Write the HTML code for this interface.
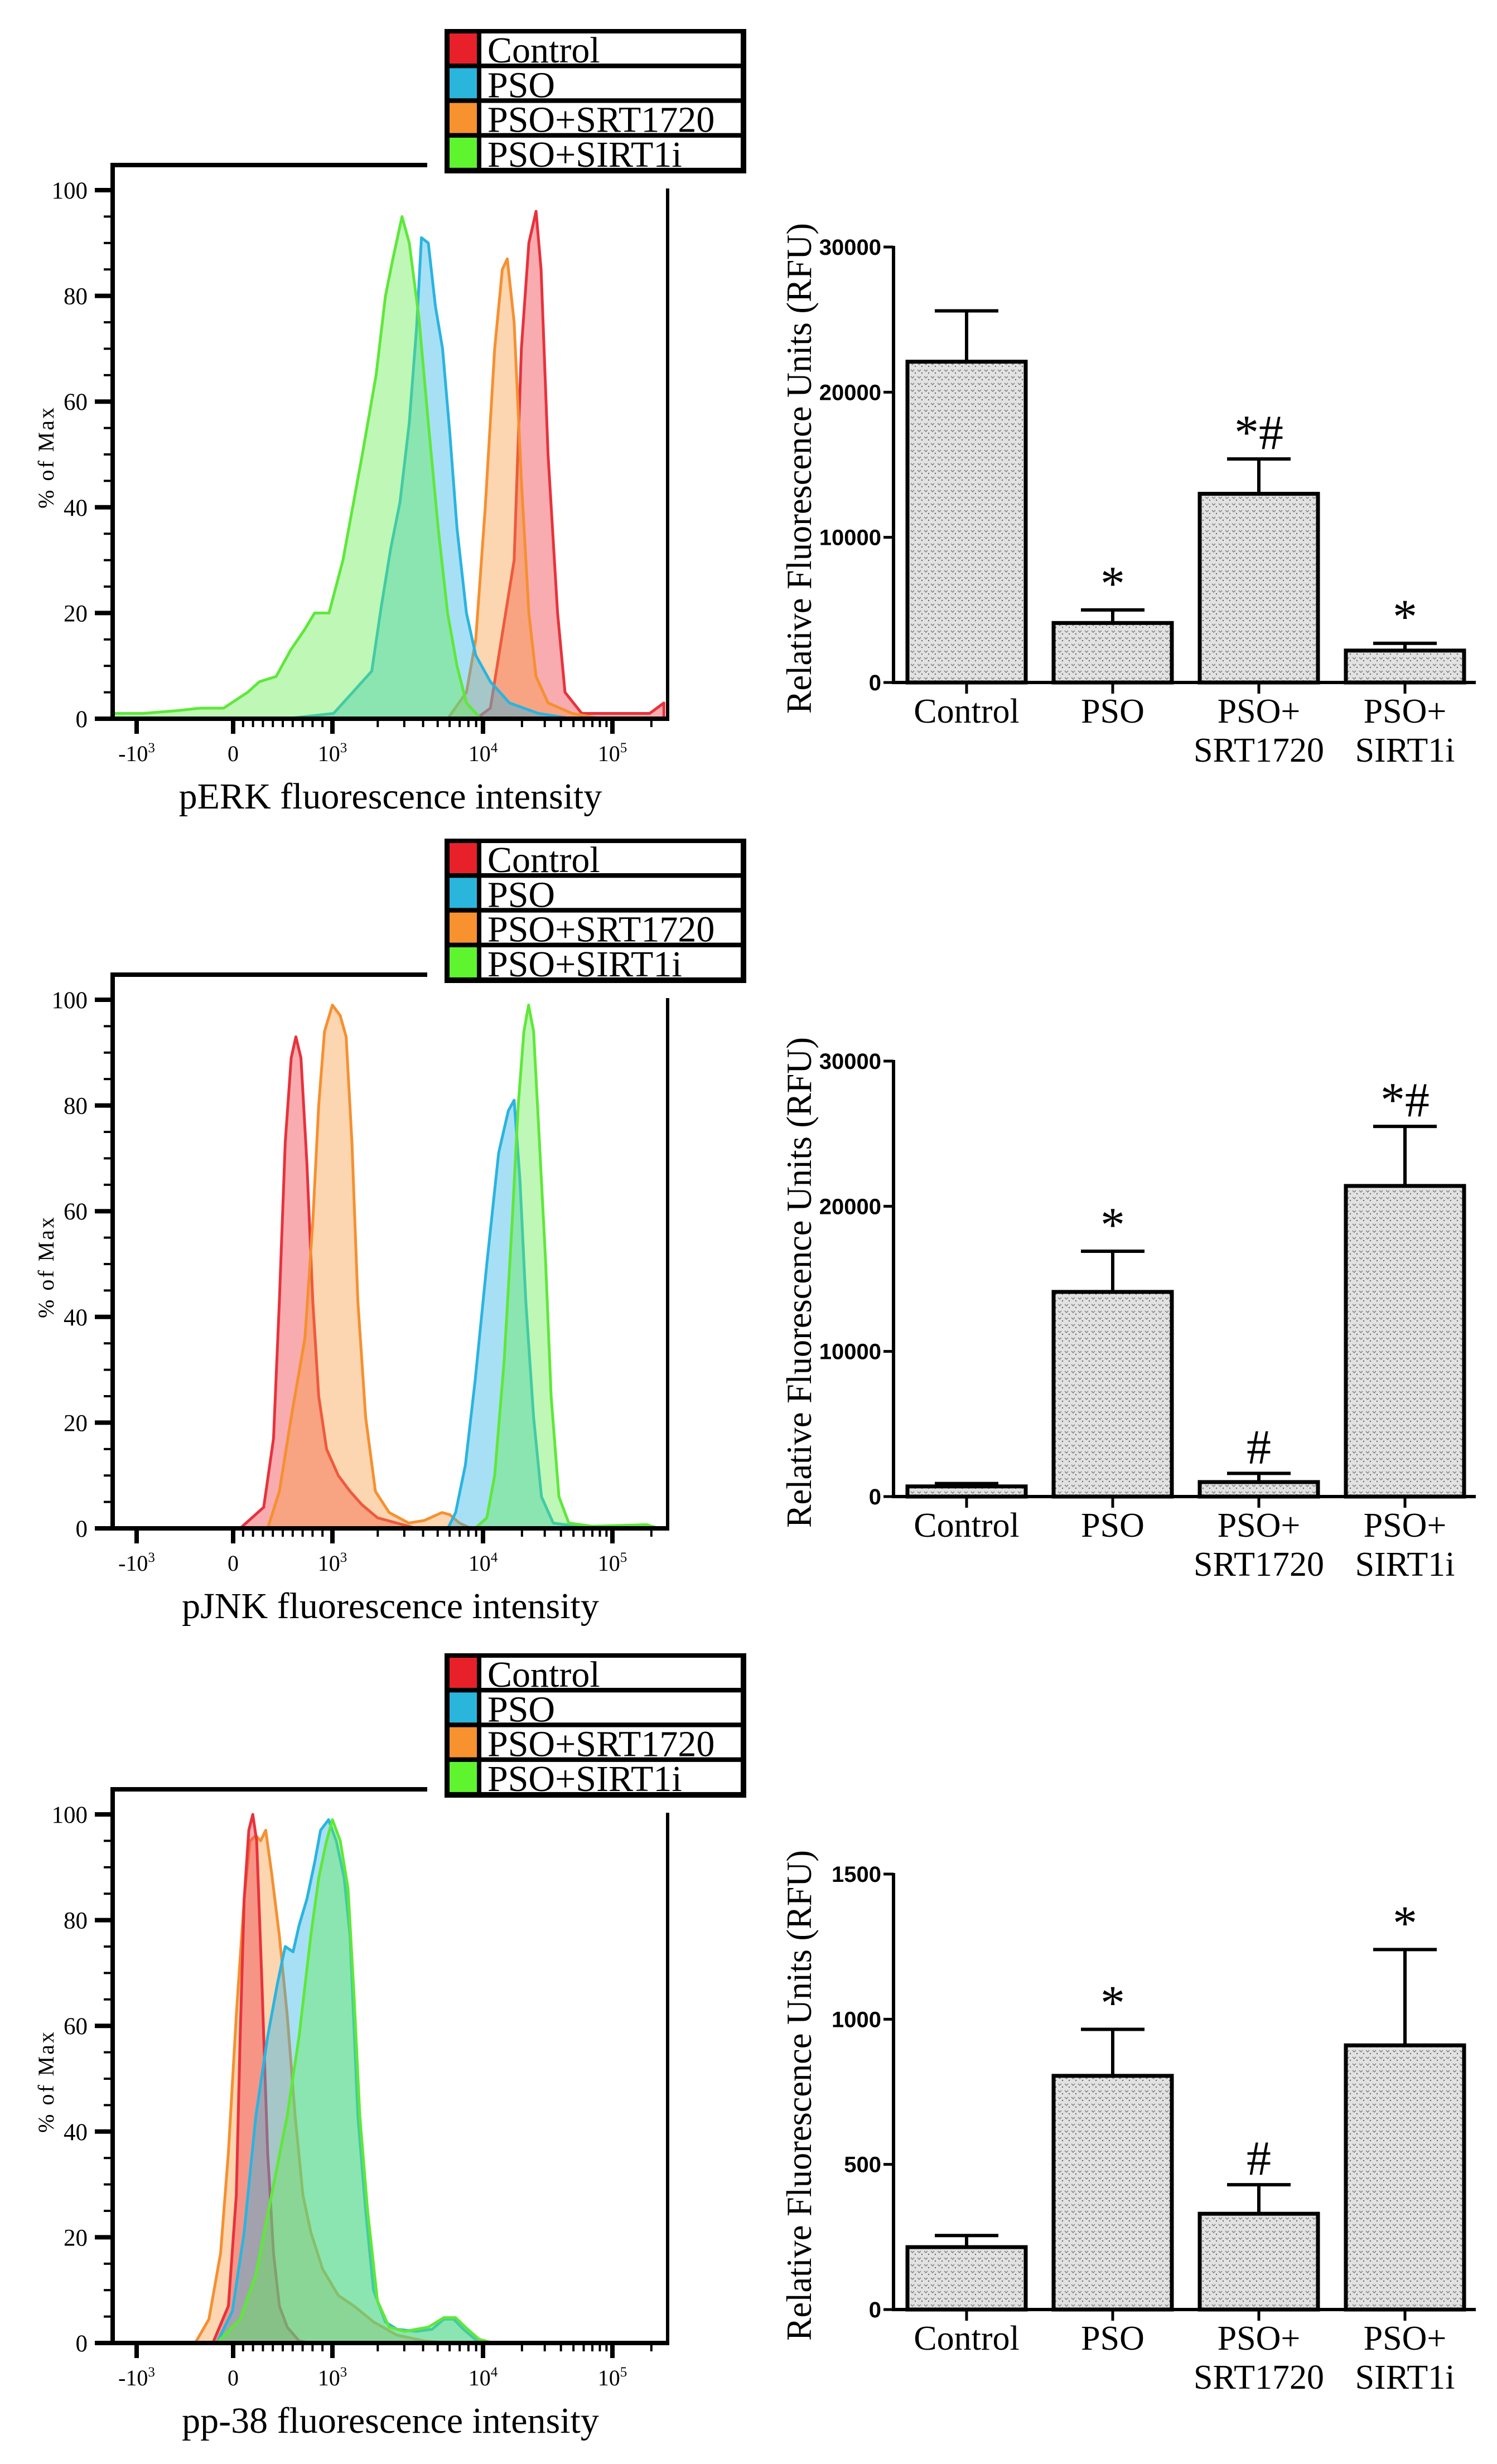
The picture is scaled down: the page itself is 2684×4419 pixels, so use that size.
<!DOCTYPE html>
<html><head><meta charset="utf-8"><style>
html,body{margin:0;padding:0;background:#fff;}
svg{display:block;}
</style></head><body>
<svg id="fig" xmlns="http://www.w3.org/2000/svg" width="2684" height="4419" viewBox="0 0 2684 4419">
<defs>
<pattern id="dots" width="12" height="12" patternUnits="userSpaceOnUse">
<rect width="12" height="12" fill="#e2e2e2"/>
<path d="M1 3 L4 6 L7 3" stroke="#8a8a8a" stroke-width="1.6" fill="none"/>
<circle cx="9" cy="9" r="1.2" fill="#666"/>
</pattern>
<clipPath id="plotclip"><rect x="204" y="250" width="990" height="1040"/></clipPath>
</defs>
<g id="root"></g>
</svg>
<script>
// ---------- Histogram data (intensity values, % of max) ----------
const seriesNames = ["Control","PSO","PSO+SRT1720","PSO+SIRT1i"];
const histX_tickVals = [-1000,0,1000,10000,100000];
const histYTicks = [0,20,40,60,80,100];
const histAxisTitles = ["pERK fluorescence intensity","pJNK fluorescence intensity","pp-38 fluorescence intensity"];

// Panel 1 (pERK)
const p1RedX = [9000,11400,17400,19800,22600,25700,28100,31800,37700,43000,58000,194000,250000];
const p1RedY = [0,2,30,70,90,96,85,50,20,5,1,1,3];
const p1OrangeX = [5820,7760,8950,10400,12300,14100,15400,17400,19800,22600,25700,31800,49000,83000];
const p1OrangeY = [0,5,15,40,70,85,87,75,45,20,8,3,1,0];
const p1BlueX = [534,1017,1268,1824,2106,2432,2810,3240,3620,3900,4330,4830,5390,6020,6720,7760,8950,11400,16000,26800,49000];
const p1BlueY = [0,1,4,9,21,32,41,56,74,91,90,78,70,54,36,20,12,7,3,1,0];
const p1GreenX = [-1272,-936,-600,-341,-98,146,264,433,579,725,820,966,1175,1580,1950,2250,2520,2900,3240,3750,4330,5040,5820,6720,7760,9670];
const p1GreenY = [1,1,1.5,2,2,5,7,8,13,17,20,20,30,50,65,80,87,95,90,76,56,36,20,10,3,0];

// Panel 2 (pJNK)
const p2RedX = [71,308,407,466,525,585,632,683,743,802,862,941,1094,1309,1566,1990,2680,3620];
const p2RedY = [0,4,17,43,73,89,93,89,69,43,25,15,10,7,4.5,2,1,0];
const p2OrangeX = [348,466,585,723,802,862,920,1000,1127,1233,1348,1475,1662,1930,2380,3210,4080,5340,6010,6980,8360];
const p2OrangeY = [0,7,21,36,58,80,94,99,97,93,73,43,21,7,3,1,1.5,3,2.6,1,0];
const p2BlueX = [5840,6580,7640,8870,10700,13200,15700,17400,19300,21400,24600,28300,34900,52800,211000];
const p2BlueY = [0,3,12,28,50,71,79,81,66,43,21,6,1,0.4,0.3];
const p2GreenX = [8870,10700,12300,14600,16800,18700,20700,22500,24600,27300,30400,33600,38600,46000,69700,184000,226000];
const p2GreenY = [0,2,10,32,58,80,94,99,94,73,51,25,6,1,0.4,0.7,0];

// Panel 3 (pp-38)
const p3RedX = [-211,-49,32,71,111,158,198,237,288,348,407,466,545,664,782];
const p3RedY = [0,7,28,58,84,97,100,95,69,36,17,7,3,0.4,0];
const p3OrangeX = [-393,-251,-130,-49,32,111,170,229,277,328,387,466,545,624,703,782,901,1094,1390,1873,2680,4070,5840];
const p3OrangeY = [0,4.5,17,36,62,84,95,96,95,97,89,77,62,43,28,21,14,9,7,4,1.5,0.4,0];
const p3BlueX = [-170,-8,111,229,348,446,525,604,664,743,822,881,961,1061,1196,1309,1475,1662,1873,2244,2680,3610,4590,5500,6380,7410,8870,11500];
const p3BlueY = [0,6,21,43,58,68,75,74,79,84,91,97,99,95,88,77,43,25,10,4,2.6,2.2,2.6,4.5,4.5,2.6,0.7,0];
const p3GreenX = [-170,71,229,387,545,664,782,862,941,1000,1127,1270,1390,1520,1713,1990,2380,3020,4330,5500,6580,7640,9430,12000];
const p3GreenY = [0,4.5,13,28,43,58,77,88,95,99,95,86,66,43,25,8,3,2.2,3,4.8,4.8,3,0.7,0];

// ---------- Bar chart data ----------
const barCategories = [["Control"],["PSO"],["PSO+","SRT1720"],["PSO+","SIRT1i"]];
const bar1Values = [22100,4100,13000,2200];
const bar1Errors = [3500,900,2400,500];
const bar1Marks = ["","*","*#","*"];
const bar1Ticks = [0,10000,20000,30000];
const bar2Values = [700,14100,1000,21400];
const bar2Errors = [200,2800,600,4100];
const bar2Marks = ["","*","#","*#"];
const bar2Ticks = [0,10000,20000,30000];
const bar3Values = [215,805,330,910];
const bar3Errors = [40,160,100,330];
const bar3Marks = ["","*","#","*"];
const bar3Ticks = [0,500,1000,1500];

const NS = "http://www.w3.org/2000/svg";
const root = document.getElementById('root');
function mk(tag, attrs, parent){
  const e = document.createElementNS(NS, tag);
  for (const k in attrs) e.setAttribute(k, attrs[k]);
  (parent||root).appendChild(e);
  return e;
}
const SERIF = '"Liberation Serif", "Times New Roman", serif';
const SANS = '"Liberation Sans", Arial, sans-serif';

function hx(v){
  if (v <= 0) return 418 + v*0.173;
  if (v <= 1000) return 418 + v*0.178;
  if (v <= 10000) return 596 + (Math.log10(v)-3)*270;
  return 866 + (Math.log10(v)-4)*232;
}
const colors = {
  stroke:["#e8323c","#2ab4e0","#f59030","#5fe83a"],
  fill:["rgba(240,70,80,0.45)","rgba(45,180,230,0.42)","rgba(247,150,60,0.40)","rgba(100,235,80,0.42)"],
  legend:["#e8202a","#29b5dc","#f7922e","#5ef52e"]
};
const panels = [
  {off:0, xs:[p1RedX,p1BlueX,p1OrangeX,p1GreenX], ys:[p1RedY,p1BlueY,p1OrangeY,p1GreenY], order:[0,2,1,3]},
  {off:1452, xs:[p2RedX,p2BlueX,p2OrangeX,p2GreenX], ys:[p2RedY,p2BlueY,p2OrangeY,p2GreenY], order:[0,2,1,3]},
  {off:2913, xs:[p3RedX,p3BlueX,p3OrangeX,p3GreenX], ys:[p3RedY,p3BlueY,p3OrangeY,p3GreenY], order:[2,0,1,3]}
];

panels.forEach((p, pi) => {
  const off = p.off;
  const g = mk('g', {transform:`translate(0,${off})`});
  
  
  const base = 1289;
  const hy = pct => base - pct*9.48;
  const cg = mk('g', {'clip-path':'url(#plotclip)'}, g);
  p.order.forEach(si => {
    const xs = p.xs[si], ys = p.ys[si];
    let d = `M${hx(xs[0]).toFixed(1)},${base}`;
    for (let i=0;i<xs.length;i++) d += ` L${hx(xs[i]).toFixed(1)},${hy(ys[i]).toFixed(1)}`;
    d += ` L${hx(xs[xs.length-1]).toFixed(1)},${base} Z`;
    const path = mk('path', {d:d, fill:colors.fill[si], stroke:colors.stroke[si], 'stroke-width':5, 'stroke-linejoin':'round'}, cg);
    
    
  });
  mk('line', {x1:198, y1:296, x2:766, y2:296, stroke:'#000', 'stroke-width':8}, g);
  mk('line', {x1:202, y1:292, x2:202, y2:1293, stroke:'#000', 'stroke-width':8}, g);
  mk('line', {x1:198, y1:1289, x2:1200, y2:1289, stroke:'#000', 'stroke-width':8}, g);
  mk('line', {x1:1197, y1:338, x2:1197, y2:1293, stroke:'#000', 'stroke-width':6}, g);
  for (let v=0; v<=100; v+=5){
    const major = v%20===0;
    mk('line', {x1: major?170:186, y1:hy(v), x2:202, y2:hy(v), stroke:'#000', 'stroke-width': major?8:4}, g);
  }
  histYTicks.forEach(v => {
    const t = mk('text', {x:157, y:hy(v)+15, 'text-anchor':'end', 'font-family':SERIF, 'font-size':43}, g);
    t.textContent = v;
    
    
  });
  const yt = mk('text', {x:0, y:0, transform:`translate(96,820) rotate(-90)`, 'text-anchor':'middle', 'font-family':SERIF, 'font-size':40, 'letter-spacing':3}, g);
  yt.textContent = '% of Max';
  
  
  histX_tickVals.forEach(v => {
    mk('line', {x1:hx(v), y1:1289, x2:hx(v), y2:1316, stroke:'#000', 'stroke-width':8}, g);
  });
  const minor = [];
  for (let k=1;k<=9;k++) minor.push(k*100);
  for (let k=2;k<=9;k++){ minor.push(k*1000); minor.push(k*10000); }
  minor.push(200000);
  minor.forEach(v => mk('line', {x1:hx(v), y1:1289, x2:hx(v), y2:1304, stroke:'#000', 'stroke-width':4}, g));
  const xl = [["-10","3"],["0",""],["10","3"],["10","4"],["10","5"]];
  histX_tickVals.forEach((v,i) => {
    const t = mk('text', {x:hx(v), y:1365, 'text-anchor':'middle', 'font-family':SERIF, 'font-size':40}, g);
    
    
    const a = mk('tspan', {}, t); a.textContent = xl[i][0];
    if (xl[i][1]) { const b = mk('tspan', {'font-size':25, dy:-16}, t); b.textContent = xl[i][1]; }
  });
  const xt = mk('text', {x:700, y:1450, 'text-anchor':'middle', 'font-family':SERIF, 'font-size':66}, g);
  xt.textContent = histAxisTitles[pi];
  
  
  const lg = mk('g', {}, g);
  
  
  mk('rect', {x:797, y:52, width:541, height:259, fill:'#000'}, lg);
  seriesNames.forEach((n,i) => {
    const top = 60 + i*62.3;
    const e = mk('g', {}, lg);
    
    
    mk('rect', {x:806, y:top, width:49, height:54, fill:colors.legend[i]}, e);
    mk('rect', {x:863, y:top, width:465, height:54, fill:'#fff'}, e);
    const t = mk('text', {x:874, y:top+52, 'font-family':SERIF, 'font-size':66}, e);
    t.textContent = n;
  });
});

const bars = [
  {off:0, vals:bar1Values, errs:bar1Errors, marks:bar1Marks, ticks:bar1Ticks},
  {off:1460, vals:bar2Values, errs:bar2Errors, marks:bar2Marks, ticks:bar2Ticks},
  {off:2918, vals:bar3Values, errs:bar3Errors, marks:bar3Marks, ticks:bar3Ticks}
];
bars.forEach((b, bi) => {
  const g = mk('g', {transform:`translate(0,${b.off})`});
  
  
  const y0 = 1224, yTop = 443, axX = 1602;
  const ymax = b.ticks[b.ticks.length-1];
  const by = v => y0 - v/ymax*(y0-yTop);
  const bx = i => 1624 + i*262;
  const bw = 218;
  mk('line', {x1:axX, y1:yTop-2, x2:axX, y2:y0+3, stroke:'#000', 'stroke-width':6}, g);
  mk('line', {x1:axX-3, y1:y0, x2:2646, y2:y0, stroke:'#000', 'stroke-width':6}, g);
  b.ticks.forEach(v => {
    mk('line', {x1:axX-18, y1:by(v), x2:axX, y2:by(v), stroke:'#000', 'stroke-width':5}, g);
    const t = mk('text', {x:axX-22, y:by(v)+14, 'text-anchor':'end', 'font-family':SANS, 'font-weight':'bold', 'font-size':40}, g);
    t.textContent = v;
    
    
  });
  const yt = mk('text', {x:0, y:0, transform:`translate(1454,840) rotate(-90)`, 'text-anchor':'middle', 'font-family':SERIF, 'font-size':63, textLength:880, lengthAdjust:'spacingAndGlyphs'}, g);
  yt.textContent = 'Relative Fluorescence Units (RFU)';
  
  
  b.vals.forEach((v,i) => {
    const x = bx(i), cx = x + bw/2;
    const top = by(v), etop = by(v + b.errs[i]);
    mk('line', {x1:cx, y1:top, x2:cx, y2:etop, stroke:'#000', 'stroke-width':6}, g);
    mk('line', {x1:cx-57, y1:etop, x2:cx+57, y2:etop, stroke:'#000', 'stroke-width':6}, g);
    const r = mk('rect', {x:x+3, y:top, width:bw-6, height:y0-top, fill:'url(#dots)', stroke:'#000', 'stroke-width':7}, g);
    
    
    mk('line', {x1:cx, y1:y0, x2:cx, y2:y0+20, stroke:'#000', 'stroke-width':5}, g);
    barCategories[i].forEach((ln, li) => {
      const t = mk('text', {x:cx, y:y0+72+li*70, 'text-anchor':'middle', 'font-family':SERIF, 'font-size':62}, g);
      t.textContent = ln;
      
      
    });
    if (b.marks[i]) {
      const m = mk('text', {x:cx, y:etop-18, 'text-anchor':'middle', 'font-family':SERIF, 'font-size':88}, g);
      m.textContent = b.marks[i];
      
      
    }
  });
});
</script>
</body></html>
